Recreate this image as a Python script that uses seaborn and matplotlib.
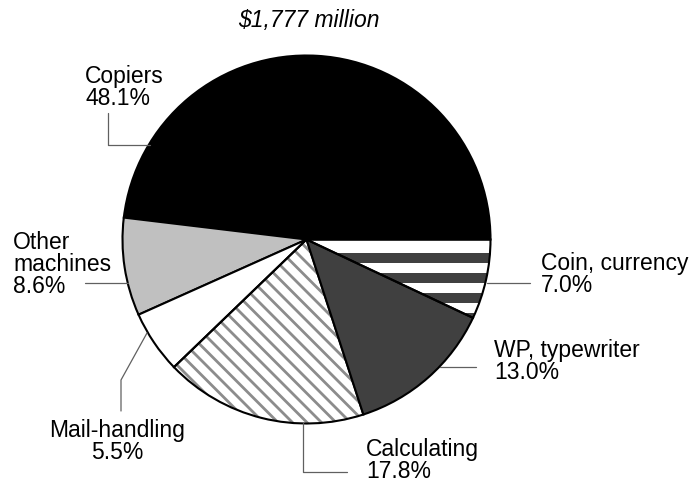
import numpy as np
import matplotlib
matplotlib.use("Agg")
import matplotlib.pyplot as plt
from matplotlib.patches import Rectangle
import seaborn as sns

# Revenue split by product line
categories = ["Copiers", "Other machines", "Mail-handling", "Calculating",
              "WP, typewriter", "Coin, currency"]
shares = [48.1, 8.6, 5.5, 17.8, 13.0, 7.0]
total_label = "$1,777 million"

sns.set_theme(style="white")
plt.rcParams["font.family"] = ["Liberation Sans", "DejaVu Sans"]

W, H = 698, 487
fig = plt.figure(figsize=(W / 100, H / 100), dpi=100)
ax = fig.add_axes([0, 0, 1, 1])

# pie geometry in pixel units (y measured from the top, converted below)
cx, cy_img, r = 306.5, 239.5, 184.0
cy = H - cy_img

def Y(y_img):
    return H - y_img

face = ["#000000", "#c0c0c0", "#ffffff", "none", "#404040", "none"]
wedges, _ = ax.pie(shares, startangle=0, counterclock=True, colors=face,
                   center=(cx, cy), radius=r,
                   wedgeprops=dict(edgecolor="black", linewidth=1.5, zorder=2))
ax.set_xlim(0, W)
ax.set_ylim(0, H)
ax.set_aspect("auto")
ax.axis("off")

# horizontal dark bands in the coin/currency wedge
coin = wedges[5]
for i in range(5):
    top = cy - (13 + 20.2 * i)
    band = Rectangle((cx - 5, top - 10.5), r + 20, 10.5, facecolor="#404040",
                     edgecolor="none", zorder=1)
    ax.add_patch(band)
    band.set_clip_path(coin)

# diagonal gray hatching in the calculating wedge
calc = wedges[3]
xs = np.array([cx - r - 20, cx + r + 20])
for c in np.arange(-450, 450, 14.5):
    ln, = ax.plot(xs, Y(xs + c), color="#8c8c8c", lw=2.0, zorder=1,
                  solid_capstyle="butt")
    ln.set_clip_path(calc)

# leader lines
leaders = [
    [(108, 113), (108, 144.5), (150, 144.5)],
    [(85, 283), (128, 283)],
    [(147, 333), (121, 380), (121, 411)],
    [(303, 423), (303, 472), (347, 472)],
    [(440, 367), (476, 367)],
    [(487, 283), (530, 283)],
]
for pts in leaders:
    px = [p[0] for p in pts]
    py = [Y(p[1]) for p in pts]
    ax.plot(px, py, color="#606060", lw=0.9, zorder=3)

FS = 16.5
STEP = 22

def label(lines, x, y_base, ha="left"):
    for i, t in enumerate(lines):
        ax.text(x, Y(y_base + i * STEP), t, fontsize=FS, ha=ha,
                va="baseline", color="black", zorder=4)

pct = [f"{v:.1f}%" for v in shares]
label([categories[0], pct[0]], 85, 83)
label(["Other", "machines", pct[1]], 13, 249)
label([categories[2], pct[2]], 117.5, 437, ha="center")
label([categories[3], pct[3]], 366, 456)
label([categories[4], pct[4]], 494, 357)
label([categories[5], pct[5]], 541, 270)

ax.text(309, Y(27), total_label, fontsize=FS, style="italic", ha="center",
        va="baseline", color="black")

fig.savefig("out.png", dpi=100, facecolor="white")
